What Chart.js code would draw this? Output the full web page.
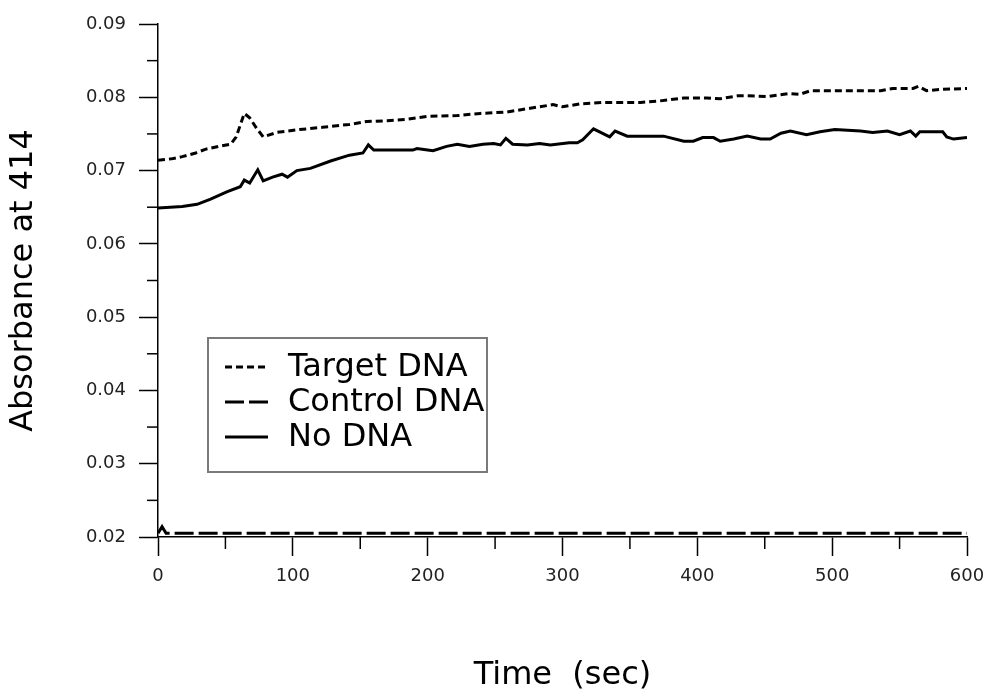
<!DOCTYPE html>
<html>
<head>
<meta charset="utf-8">
<title>Absorbance at 414</title>
<script src="https://cdn.jsdelivr.net/npm/chart.js"></script>
<style>
  html, body { margin: 0; padding: 0; background: #fff; }
  #chart { display: block; }
</style>
</head>
<body>
<canvas id="chart" width="985" height="695"></canvas>
<script>
// Target DNA (dotted line)
const targetTime = [0, 10, 18, 28, 35, 45, 54, 58, 64, 68, 73, 78, 88, 105, 122, 142, 155, 170, 185, 200,
    222, 239, 259, 276, 293, 300, 313, 330, 358, 372, 390, 407, 417, 430, 437, 452, 467, 476, 484, 500,
    536, 545, 560, 564, 570, 582, 600];
const targetAbs = [0.0714, 0.0716, 0.0719, 0.0724, 0.0729, 0.0733, 0.0736, 0.0746, 0.0778, 0.0772, 0.0758, 0.0746, 0.0752, 0.0756, 0.0759, 0.0763, 0.0767, 0.0768, 0.0770, 0.0774,
    0.0775, 0.0778, 0.0780, 0.0785, 0.0790, 0.0787, 0.0791, 0.0793, 0.0793, 0.0795, 0.0799, 0.0799, 0.0798, 0.0802, 0.0802, 0.0801, 0.0805, 0.0804, 0.0809, 0.0809,
    0.0809, 0.0812, 0.0812, 0.0815, 0.0809, 0.0811, 0.0812];

// Control DNA (long dashes)
const controlTime = [0, 3, 6, 600];
const controlAbs = [0.0205, 0.0214, 0.0205, 0.0205];

// No DNA (solid line)
const noDnaTime = [0, 18, 29, 39, 51, 61, 64, 68, 74, 78, 85, 92, 96, 103, 113, 128, 142, 152, 156, 160,
    189, 192, 200, 204, 214, 222, 231, 241, 249, 254, 258, 263, 274, 283, 291, 305, 311, 315, 323, 335,
    339, 348, 375, 390, 397, 404, 412, 417, 427, 437, 447, 454, 462, 469, 481, 491, 502, 521, 530, 541,
    550, 558, 562, 565, 582, 585, 590, 600];
const noDnaAbs = [0.0649, 0.0651, 0.0654, 0.0661, 0.0671, 0.0678, 0.0687, 0.0683, 0.0701, 0.0686, 0.0691, 0.0695, 0.0691, 0.0700, 0.0703, 0.0713, 0.0721, 0.0724, 0.0735, 0.0728,
    0.0728, 0.0730, 0.0728, 0.0727, 0.0733, 0.0736, 0.0733, 0.0736, 0.0737, 0.0735, 0.0744, 0.0736, 0.0735, 0.0737, 0.0735, 0.0738, 0.0738, 0.0742, 0.0757, 0.0746,
    0.0754, 0.0747, 0.0747, 0.0740, 0.0740, 0.0745, 0.0745, 0.0740, 0.0743, 0.0747, 0.0743, 0.0743, 0.0751, 0.0754, 0.0749, 0.0753, 0.0756, 0.0754, 0.0752, 0.0754,
    0.0749, 0.0754, 0.0747, 0.0753, 0.0753, 0.0746, 0.0743, 0.0745];

const seriesLabels = ['Target DNA', 'Control DNA', 'No DNA'];

function toPoints(times, values) {
    return times.map((t, i) => ({ x: t, y: values[i] }));
}

// minor tick marks halfway between the labelled ticks
const minorTicks = {
    id: 'minorTicks',
    afterDraw(chart) {
        const ctx = chart.ctx;
        const area = chart.chartArea;
        ctx.save();
        ctx.strokeStyle = '#000';
        ctx.lineWidth = 1.5;
        const y = chart.scales.y;
        for (let i = 0; i < y.ticks.length - 1; i++) {
            const py = y.getPixelForValue((y.ticks[i].value + y.ticks[i + 1].value) / 2);
            ctx.beginPath();
            ctx.moveTo(area.left - 11, py);
            ctx.lineTo(area.left, py);
            ctx.stroke();
        }
        const x = chart.scales.x;
        for (let i = 0; i < x.ticks.length - 1; i++) {
            const px = x.getPixelForValue((x.ticks[i].value + x.ticks[i + 1].value) / 2);
            ctx.beginPath();
            ctx.moveTo(px, area.bottom);
            ctx.lineTo(px, area.bottom + 12);
            ctx.stroke();
        }
        ctx.restore();
    }
};

// boxed legend sitting inside the plot, lower left
const boxLegend = {
    id: 'boxLegend',
    afterDraw(chart) {
        const ctx = chart.ctx;
        const area = chart.chartArea;
        const left = area.left + 50;
        const top = area.top + 314;
        ctx.save();
        ctx.strokeStyle = '#7a7a7a';
        ctx.lineWidth = 2;
        ctx.strokeRect(left, top, 279, 134);
        ctx.font = '32px "DejaVu Sans"';
        ctx.fillStyle = '#000';
        ctx.textBaseline = 'middle';
        chart.data.datasets.forEach((ds, i) => {
            const rowY = top + 29 + i * 35;
            ctx.beginPath();
            ctx.setLineDash(ds.borderDash || []);
            ctx.lineWidth = 3;
            ctx.strokeStyle = '#000';
            ctx.moveTo(left + 17, rowY);
            ctx.lineTo(left + 60, rowY);
            ctx.stroke();
            ctx.setLineDash([]);
            ctx.fillText(ds.label, left + 80, rowY + 1);
        });
        ctx.restore();
    }
};

Chart.defaults.font.family = '"DejaVu Sans", Verdana, sans-serif';
Chart.defaults.color = '#000';

new Chart(document.getElementById('chart'), {
    type: 'line',
    data: {
        datasets: [
            {
                label: seriesLabels[0],
                data: toPoints(targetTime, targetAbs),
                borderColor: '#000',
                borderWidth: 3,
                borderDash: [7, 4],
                pointRadius: 0,
                tension: 0
            },
            {
                label: seriesLabels[1],
                data: toPoints(controlTime, controlAbs),
                borderColor: '#000',
                borderWidth: 3,
                borderDash: [19, 5],
                pointRadius: 0,
                tension: 0
            },
            {
                label: seriesLabels[2],
                data: toPoints(noDnaTime, noDnaAbs),
                borderColor: '#000',
                borderWidth: 3,
                pointRadius: 0,
                tension: 0
            }
        ]
    },
    options: {
        responsive: false,
        animation: false,
        devicePixelRatio: 1,
        layout: { padding: { top: 24, right: 18, left: 0, bottom: 0 } },
        plugins: {
            legend: { display: false },
            tooltip: { enabled: false }
        },
        scales: {
            x: {
                type: 'linear',
                min: 0,
                max: 600,
                afterFit: scale => {
                    scale.height = 158;
                    scale.paddingLeft = 0;
                    scale.paddingRight = 0;
                },
                ticks: {
                    stepSize: 100,
                    padding: 10,
                    color: '#222',
                    font: { size: 18 }
                },
                grid: {
                    drawOnChartArea: false,
                    drawTicks: true,
                    tickLength: 19,
                    tickColor: '#000',
                    tickWidth: 1.5
                },
                border: { display: true, color: '#000', width: 1.5 },
                title: {
                    display: true,
                    text: 'Time  (sec)',
                    font: { size: 32, lineHeight: 1.2 },
                    padding: { top: 0, bottom: 0 }
                }
            },
            y: {
                min: 0.02,
                max: 0.09,
                afterFit: scale => {
                    scale.width = 158;
                    scale.paddingTop = 0;
                    scale.paddingBottom = 0;
                },
                ticks: {
                    stepSize: 0.01,
                    padding: 13,
                    color: '#222',
                    font: { size: 18 },
                    callback: v => v.toFixed(2)
                },
                grid: {
                    drawOnChartArea: false,
                    drawTicks: true,
                    tickLength: 19,
                    tickColor: '#000',
                    tickWidth: 1.5
                },
                border: { display: true, color: '#000', width: 1.5 },
                title: {
                    display: true,
                    text: 'Absorbance at 414',
                    font: { size: 32, lineHeight: 1.2 },
                    padding: { top: 4, bottom: 0 }
                }
            }
        }
    },
    plugins: [minorTicks, boxLegend]
});
</script>
</body>
</html>
